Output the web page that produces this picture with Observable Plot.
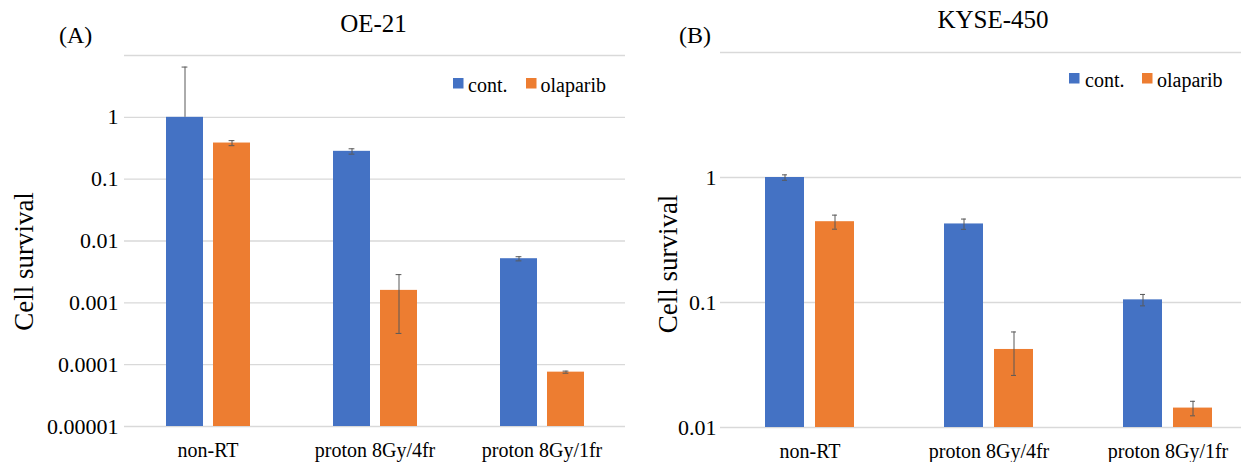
<!DOCTYPE html>
<html><head><meta charset="utf-8">
<script src="https://cdn.jsdelivr.net/npm/d3@7"></script>
<script src="https://cdn.jsdelivr.net/npm/@observablehq/plot@0.6"></script>
<style>
html,body{margin:0;padding:0;background:#fff;overflow:hidden;}
#root{position:relative;width:1241px;height:462px;overflow:hidden;background:#fff;}
#root svg, #root svg text{font-family:"Liberation Serif","Times New Roman",serif !important;}
.panel{position:absolute;top:0;}
#overlay{position:absolute;left:0;top:0;}
</style></head><body><div id="root"></div>
<script>
// ---- data ----
const categories = ["non-RT", "proton 8Gy/4fr", "proton 8Gy/1fr"];
const series = ["cont.", "olaparib"];
const colors = ["#4472C4", "#ED7D31"];

const oe21Cont = [1.0, 0.282, 0.00517];
const oe21ContErr = [5.5, 0.028, 0.0004];
const oe21Olap = [0.384, 0.00159, 0.0000757];
const oe21OlapErr = [0.036, 0.00127, 0.000003];

const kyseCont = [1.0, 0.425, 0.105];
const kyseContErr = [0.05, 0.04, 0.011];
const kyseOlap = [0.443, 0.0421, 0.0143];
const kyseOlapErr = [0.057, 0.016, 0.0019];

const oe21Ticks = [10, 1, 0.1, 0.01, 0.001, 0.0001, 0.00001];
const oe21TickLabels = ["", "1", "0.1", "0.01", "0.001", "0.0001", "0.00001"];
const kyseTicks = [10, 1, 0.1, 0.01];
const kyseTickLabels = ["", "1", "0.1", "0.01"];

const titles = ["OE-21", "KYSE-450"];
const panelTags = ["(A)", "(B)"];
const yLabel = "Cell survival";

const FONT = "Liberation Serif, Times New Roman, serif";

function rowsOf(cont, contErr, olap, olapErr) {
  const rows = [];
  categories.forEach((c, i) => {
    [[cont, contErr], [olap, olapErr]].forEach(([v, e], j) => {
      const lo = v[i] - e[i];
      rows.push({cat: c, series: series[j], value: v[i], hi: v[i] + e[i], lo: lo > 0 ? lo : v[i], showLo: lo > 0});
    });
  });
  return rows;
}

function panel({rows, ticks, tickLabels, width, marginLeft, marginRight, marginTop, marginBottom, capInset, yTickPadding}) {
  const yMin = ticks[ticks.length - 1], yMax = ticks[0];
  return Plot.plot({
    width, height: 462, marginLeft, marginRight, marginTop, marginBottom,
    style: {fontFamily: FONT, fontSize: "22px", color: "#000", background: "transparent", overflow: "visible"},
    fx: {domain: categories, padding: 0},
    x: {domain: series, paddingInner: 0.216, paddingOuter: 0.868, axis: null},
    y: {type: "log", domain: [yMin, yMax]},
    color: {domain: series, range: colors},
    marks: [
      Plot.gridY(ticks, {stroke: "#d9d9d9", strokeOpacity: 1, strokeWidth: 1.3}),
      Plot.barY(rows, {fx: "cat", x: "series", y1: yMin, y2: "value", fill: "series"}),
      Plot.ruleX(rows, {fx: "cat", x: "series", y1: "lo", y2: "hi", stroke: "#595959", strokeWidth: 1}),
      Plot.tickY(rows, {fx: "cat", x: "series", y: "hi", stroke: "#595959", strokeWidth: 1, insetLeft: capInset, insetRight: capInset}),
      Plot.tickY(rows.filter(d => d.showLo), {fx: "cat", x: "series", y: "lo", stroke: "#595959", strokeWidth: 1, insetLeft: capInset, insetRight: capInset}),
      Plot.axisY(ticks, {tickSize: 0, tickPadding: yTickPadding, tickFormat: d => tickLabels[ticks.indexOf(d)], label: null, fontSize: 22, fontFamily: FONT, fill: "#000"}),
      Plot.axisFx({anchor: "bottom", tickSize: 0, tickPadding: 16, fontSize: 20, fontFamily: FONT, fill: "#000", label: null})
    ]
  });
}

const root = document.getElementById("root");

const left = panel({
  rows: rowsOf(oe21Cont, oe21ContErr, oe21Olap, oe21OlapErr),
  ticks: oe21Ticks, tickLabels: oe21TickLabels,
  width: 640, marginLeft: 123, marginRight: 15, marginTop: 55, marginBottom: 36,
  capInset: 15.6, yTickPadding: 6
});
left.classList.add("panel"); left.style.left = "0px";
root.appendChild(left);

const right = panel({
  rows: rowsOf(kyseCont, kyseContErr, kyseOlap, kyseOlapErr),
  ticks: kyseTicks, tickLabels: kyseTickLabels,
  width: 630, marginLeft: 79, marginRight: 13, marginTop: 52, marginBottom: 35,
  capInset: 17, yTickPadding: 4
});
right.classList.add("panel"); right.style.left = "640px";
root.appendChild(right);

// ---- annotations (titles, panel tags, legends, y labels) ----
const ns = "http://www.w3.org/2000/svg";
const ov = document.createElementNS(ns, "svg");
ov.setAttribute("id", "overlay");
ov.setAttribute("width", 1241); ov.setAttribute("height", 462);
root.appendChild(ov);
function txt(s, x, y, size, anchor, transform) {
  const t = document.createElementNS(ns, "text");
  t.textContent = s;
  t.setAttribute("x", x); t.setAttribute("y", y);
  t.setAttribute("font-size", size);
  t.setAttribute("fill", "#000");
  if (anchor) t.setAttribute("text-anchor", anchor);
  if (transform) t.setAttribute("transform", transform);
  ov.appendChild(t);
}
function sq(x, y, c) {
  const r = document.createElementNS(ns, "rect");
  r.setAttribute("x", x); r.setAttribute("y", y);
  r.setAttribute("width", 10.5); r.setAttribute("height", 10.5);
  r.setAttribute("fill", c);
  ov.appendChild(r);
}
txt(titles[0], 373.5, 32, 25, "middle");
txt(titles[1], 993, 28, 25, "middle");
txt(panelTags[0], 59, 43, 24);
txt(panelTags[1], 679, 43, 24);
// legends
sq(453, 78, colors[0]); txt(series[0], 468, 92, 20);
sq(526, 78, colors[1]); txt(series[1], 540.5, 92, 20);
sq(1069, 73, colors[0]); txt(series[0], 1085, 87, 20);
sq(1142, 73, colors[1]); txt(series[1], 1157, 87, 20);
// y labels
txt(yLabel, 0, 0, 27, "middle", "translate(33,261.5) rotate(-90)");
txt(yLabel, 0, 0, 27, "middle", "translate(677,264) rotate(-90)");
</script>
</body></html>
